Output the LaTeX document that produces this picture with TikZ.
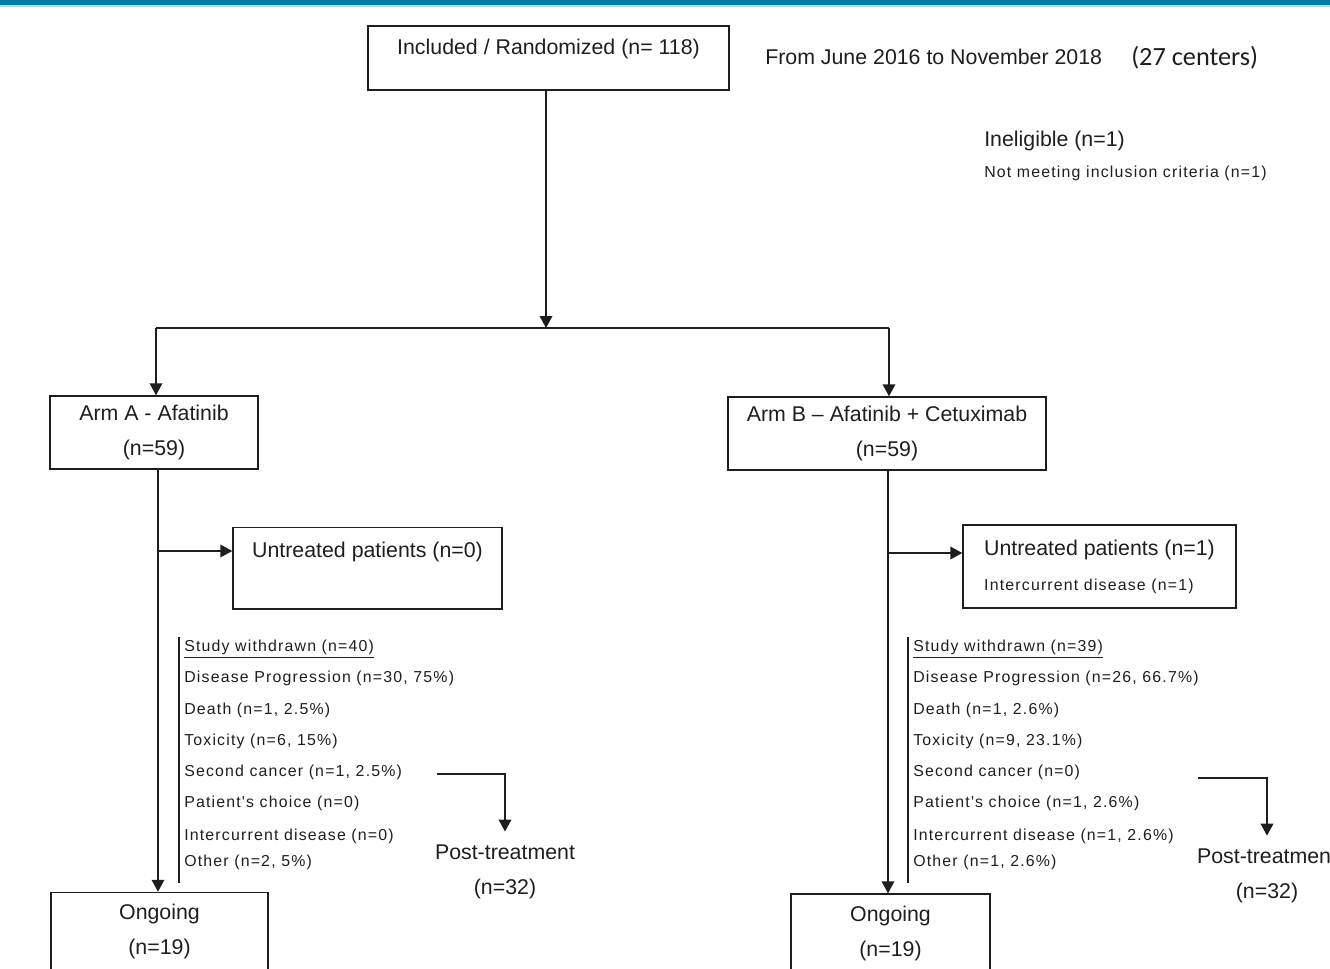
\documentclass[tikz,border=0pt]{standalone}
\usepackage{fontspec}
\setmainfont{Liberation Sans}
\newfontfamily\Track[LetterSpace=7.5]{Liberation Sans}
\newfontfamily\Calib{Carlito}
\usetikzlibrary{arrows.meta}
\definecolor{topbar}{RGB}{0,120,165}
\definecolor{ink}{RGB}{30,30,30}
\newcommand{\Main}{\fontsize{16pt}{26.25pt}\selectfont}
\newcommand{\Small}{\Track\fontsize{11.9pt}{23.4pt}\selectfont}

\begin{document}
\begin{tikzpicture}[x=0.75pt,y=-0.75pt,
  box/.style={draw=ink, line width=1.1pt, inner sep=0pt, align=center, text=ink, font=\Main},
  txt/.style={inner sep=0pt, text=ink, font=\Main},
  wire/.style={draw=ink, line width=1.1pt},
  tip/.style={-{Triangle[width=9.5pt,length=9pt]}},
  arr/.style={wire, tip}]
  \useasboundingbox (0,0) rectangle (1330,968);
  \clip (0,0) rectangle (1330,968);
  \fill[topbar] (0,0) rectangle (1330,5);
  \fill[topbar!30] (0,5) rectangle (1330,6.5);

  \node[box, anchor=north, minimum width=270.75pt, text height=21.5pt, text depth=26.5pt, line width=1.5pt] (incl) at (548.5,25) {Included / Randomized (n= 118)};
  \node[txt, anchor=base west] (period) at (765,64.7) {From June 2016 to November 2018};
  \node[txt, anchor=base west, font=\Calib\fontsize{19.7pt}{24pt}\selectfont] (centers) at (1131,65) {(27 centers)};
  \node[txt, anchor=base west] (inel) at (984,146.7) {Ineligible (n=1)};
  \node[txt, anchor=base west, font=\Small] (inelwhy) at (984,177.5) {Not meeting inclusion criteria (n=1)};

  \node[box, minimum width=156pt, minimum height=54.75pt] (armA) at (154,432.5) {Arm A - Afatinib\\(n=59)};
  \node[box, minimum width=238.5pt, minimum height=54.75pt] (armB) at (887,433.5) {Arm B – Afatinib + Cetuximab\\(n=59)};
  \node[box, anchor=north, minimum width=201.75pt, text height=22.3pt, text depth=38.5pt] (untrA) at (367.5,527) {Untreated patients (n=0)};
  \node[box, align=left, minimum width=204.75pt, minimum height=62.25pt] (untrB) at (1099.5,566.5) {Untreated patients (n=1)\\{\Small Intercurrent disease (n=1)}};
  \node[box, minimum width=162.75pt, minimum height=58.5pt] (ongA) at (159.5,931.5) {Ongoing\\(n=19)};
  \node[box, minimum width=149.25pt, minimum height=58.5pt] (ongB) at (890.5,933) {Ongoing\\(n=19)};

  \node[txt, font=\Small, align=left, anchor=north west, inner xsep=3.75pt, inner ysep=2.25pt] (wdA) at (179,637) {\underline{Study withdrawn (n=40)}\\Disease Progression (n=30, 75\%)\\Death (n=1, 2.5\%)\\Toxicity (n=6, 15\%)\\Second cancer (n=1, 2.5\%)\\Patient's choice (n=0)\\[1.35pt]Intercurrent disease (n=0)\\[-3.9pt]Other (n=2, 5\%)};
  \node[txt, font=\Small, align=left, anchor=north west, inner xsep=3.75pt, inner ysep=2.25pt] (wdB) at (908,637) {\underline{Study withdrawn (n=39)}\\Disease Progression (n=26, 66.7\%)\\Death (n=1, 2.6\%)\\Toxicity (n=9, 23.1\%)\\Second cancer (n=0)\\Patient's choice (n=1, 2.6\%)\\[1.35pt]Intercurrent disease (n=1, 2.6\%)\\[-3.9pt]Other (n=1, 2.6\%)};
  \node[txt, align=center, inner ysep=9.5pt] (postA) at (505,871.5) {Post-treatment\\(n=32)};
  \node[txt, align=center, inner ysep=9.5pt] (postB) at (1267,875.6) {Post-treatment\\(n=32)};

  \coordinate (hub) at (546,328);
  \coordinate (hubA) at (156,328);
  \coordinate (hubB) at (889,328);
  \coordinate (trunkA) at (158,551);
  \coordinate (trunkB) at (888,553);
  \coordinate (ptA) at (437,774);
  \coordinate (ptB) at (1198,778);

  \draw[arr] (incl.south -| hub) -- (hub);
  \draw[wire] (hubA) -- (hubB);
  \path[tip, ink, line width=1.1pt]
    (hubA) edge (hubA |- armA.north)
    (hubB) edge (hubB |- armB.north)
    (trunkA |- armA.south) edge (trunkA |- ongA.north)
    (trunkB |- armB.south) edge (trunkB |- ongB.north)
    (trunkA) edge (trunkA -| untrA.west)
    (trunkB) edge (trunkB -| untrB.west);
  \draw[arr] (ptA) -| (postA.north);
  \draw[arr] (ptB) -| (postB.north);
  \draw[wire] (wdA.north west) -- ([yshift=-7pt]wdA.south west);
  \draw[wire] (wdB.north west) -- ([yshift=-7pt]wdB.south west);
\end{tikzpicture}
\end{document}
